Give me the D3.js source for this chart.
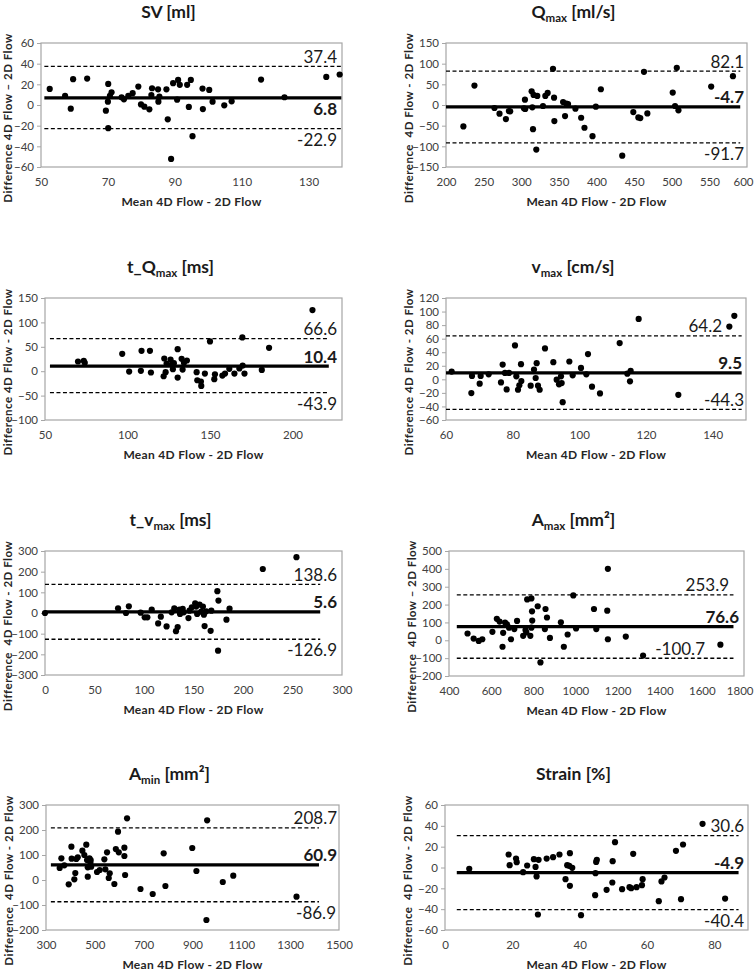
<!DOCTYPE html>
<html><head><meta charset="utf-8">
<script src="https://cdn.jsdelivr.net/npm/d3@7"></script>
<style>
body{margin:0;background:#fff}
svg{display:block}
text{font-family:Lato,"Open Sans",sans-serif}
</style>
</head><body>
<svg id="chart" width="754" height="971"></svg>
<script>
// ---------- DATA ----------
const titleMain = ["SV [ml]", "Q", "t_Q", "v", "t_v", "A", "A", "Strain [%]"];
const titleSub  = ["", "max", "max", "max", "max", "max", "min", ""];
const titleTail = ["", " [ml/s]", " [ms]", " [cm/s]", " [ms]", " [mm²]", " [mm²]", ""];
const yAxisLabels = [
  "Difference 4D Flow \u2013 2D Flow", "Difference  4D Flow - 2D Flow",
  "Difference 4D Flow - 2D Flow", "Difference 4D Flow - 2D Flow",
  "Difference  4D Flow - 2D Flow", "Difference  4D Flow \u2013 2D Flow",
  "Difference  4D Flow - 2D Flow", "Difference  4D Flow - 2D Flow"];
const xAxisLabel = "Mean 4D Flow - 2D Flow";

// limits of agreement: upper, mean (bias), lower
const upperLoA = [37.4, 82.1, 66.6, 64.2, 138.6, 253.9, 208.7, 30.6];
const meanBias = [6.8, -4.7, 10.4, 9.5, 5.6, 76.6, 60.9, -4.9];
const lowerLoA = [-22.9, -91.7, -43.9, -44.3, -126.9, -100.7, -86.9, -40.4];
// x extent of the reference lines (data units)
const lineStart = [51, 200, 53, 60, 0, 437, 320, 3.5];
const lineEnd   = [139.8, 591, 222, 148.7, 278, 1750, 1418, 87.2];

// axis domains and ticks
const xDomains = [[50,140],[200,600],[50,230],[60,150],[0,300],[400,1800],[300,1500],[0,90]];
const xTicks = [[50,70,90,110,130],[200,250,300,350,400,450,500,550,600],[50,100,150,200],
  [60,80,100,120,140],[0,50,100,150,200,250,300],[400,600,800,1000,1200,1400,1600,1800],
  [300,500,700,900,1100,1300,1500],[0,20,40,60,80]];
const yDomains = [[-60,60],[-150,150],[-100,150],[-60,120],[-300,300],[-200,500],[-200,300],[-60,60]];
const yTicks = [[-60,-40,-20,0,20,40,60],[-150,-100,-50,0,50,100,150],[-100,-50,0,50,100,150],
  [-60,-40,-20,0,20,40,60,80,100,120],[-300,-200,-100,0,100,200,300],
  [-200,-100,0,100,200,300,400,500],[-200,-100,0,100,200,300],[-60,-40,-20,0,20,40,60]];

// points: mean (x) and difference (y)
const svMean = [52.6,57.2,58.9,59.6,63.8,69.4,70.1,70.1,70,70.6,71.1,74.1,74.8,76.1,77.4,79.1,79.9,80.9,82.4,83.2,83,85,85.4,85.1,87.5,87.9,88.9,89.5,91,90.7,91.5,93.7,94.2,94.8,95.3,98.3,98.4,100.3,101.3,104.8,107,115.8,122.8,135.3,139.3];
const svDiff = [15.6,8.8,-3.6,25,25.6,-5.5,20.4,-22.4,3.2,8.8,12.3,7.5,5.5,8.8,11.4,17.8,0.6,-1.6,-4.2,16.2,9.7,15.2,8.1,3.2,15.2,-13.9,-52.2,21.1,24.3,5.2,19.5,19.5,-1.9,24.3,-30.2,15.9,-3.9,14.6,3.2,-0.3,3.6,24.6,7.5,27.2,29.5];

const qMean = [223.1,237.8,264.4,271.1,279.6,283.6,285.3,303.6,304.9,305.3,313.8,314.7,315.6,316.4,320,321.3,328.9,332,335.1,342.2,343.6,344,355.6,358.2,360,362.2,372,379.6,384,394.7,399.1,405.8,434.2,448.9,455.6,458.2,463.1,467.6,501.3,504.4,506.7,508.9,552.4,581.3];
const qDiff = [-51.9,47,-7.3,-21,-34,-14.6,-15.4,-8.1,13,-9.7,33.3,-5.7,-58.4,24.3,-107.9,21.9,-2.4,21.9,29.2,87.6,17.8,-38.9,7.3,-26.8,3.2,2.4,-8.9,-30.8,-55.1,-75.4,-4.1,38.1,-122.5,-17,-30,-31.6,80.3,-20.3,30,-2.4,90,-13,44.6,69.7];

const tqMean = [70,73.5,74.1,96.8,101,108.5,108.1,113.6,114.2,121.9,122.3,123.1,123.7,126.1,126.9,127.5,128.1,130.4,130.4,132.8,133.4,134.2,136,141.9,142.3,144.5,144.7,146.9,150,152.6,153,157.5,159.1,161.7,164.8,167.8,169.6,169.8,170.9,181.4,185.8,212.1];
const tqDiff = [19.9,21.2,17.1,35.6,-0.7,41.8,0.7,41.8,-2.7,-10.3,26,-2.1,15.8,24,13.7,4.1,16.4,45.2,-13,25.3,3.4,17.1,21.9,-2.1,-18.5,-21.2,-30.1,-4.8,61,-16.4,-6.2,-8.9,-4.8,4.8,-4.8,5.5,69.2,11.6,-4.8,2.7,47.9,125.3];

const vMean = [61.7,67.6,67.8,70.1,70.4,72.8,76.5,77,77.7,78.2,78.9,80.7,81.1,81.6,82,82.5,82.6,85.4,86.4,86.9,87.2,87.6,88.1,89.7,92.2,93.2,93.9,94.5,94.7,95,97,98,100.5,102.1,102.6,103.8,106.2,112.1,114.4,115.4,115.2,117.8,129.7,145,146.5];
const vDiff = [11.4,-20.3,5,-6.4,5,7.4,-4.5,21.8,9.4,-14.9,9.4,50.1,4.5,-15.4,-8.9,22.3,-2.5,-9.4,14.4,2,23.8,-9.4,-15.4,45.6,25.3,-0.5,-7.4,4.5,-5.5,-33.7,26.3,5.9,16.9,7.4,37.2,-10.9,-20.8,53.5,8.4,12.4,-3,89.2,-22.8,77.8,93.7];

const tvMean = [0,73.8,81.8,84.7,96.6,100.7,103.4,107.8,114.3,117,122.8,127.9,130.6,132.3,134,135.7,136.4,139.1,140.1,144.9,145.9,148.3,151.7,152.7,153.7,156.1,157.8,159.5,160.5,161.2,162.9,167.3,168,174.1,175.2,174.8,183.3,186.4,220,254];
const tvDiff = [0,22.8,0,32.5,1.6,-21,-21,16.3,-50.4,-17.9,-65,3.3,22.8,-87.8,-68.3,16.3,-4.9,19.5,3.3,-24.4,11.4,27.6,47.2,30.9,-4.9,40.7,6.5,30.9,-8.1,-63.4,8.1,-86.2,11.4,105.7,60.2,-182.1,-32.5,21.1,213,270];

const amaxMean = [488,517,541,558,606,627,640,654,657,666,675,685,694,710,723,752,763,767,771,786,791,794,795,791,821,834,855,858,865,879,931,945,963,990,1003,1088,1099,1151,1154,1154,1239,1321,1688];
const amaxDiff = [38,9.5,-3.8,5.7,47.6,120,104.8,-36.2,41.9,99,89.5,70.5,5.7,62.9,108.6,24.8,57.1,43.8,228.6,24.8,234.3,162,110.5,70.5,190.5,-123.8,62.9,175.2,127.6,13.3,101,-36.2,32.4,251.4,66.7,175.2,62.9,165.7,5.7,400,21,-85.7,-24.8];

const aminMean = [356,363,375,393,404,405,416,420,424,430,449,457,465,468,471,471,478,482,483,485,509,520,539,543,550,557,561,580,586,595,598,621,621,624,632,687,737,782,789,899,916,957,960,1024,1067,1326];
const aminDiff = [48,86.7,58.7,-17.3,133.3,85.3,2.7,28,84,90.7,117.3,100,141.3,80,13.3,50.7,86.7,69.3,80,53.3,32,40,82.7,42.7,110.7,8,26.7,-16,124,193.3,110.7,129.3,96,20,246.7,-36,-56,106.7,-24,128,36,-160,238.7,-8,17.3,-66.7];

const strainMean = [7.2,18.9,19.2,21.1,21.3,23.2,24.4,26.4,26.9,27.2,27.8,27.6,30.2,32.1,34,35.8,36.3,36.9,37.1,37.1,37.8,40.4,44.7,44.6,44.9,45.1,48,49.7,49.8,50.5,52.6,54.8,55.3,55.9,56.9,58.7,58.5,63.5,64.3,65.2,68.6,70.1,70.7,76.5,83.2];
const strainDiff = [-1.3,12.5,2.2,8.6,5.1,-4.5,1.9,8,0.6,-8.6,7.4,-45.1,8.6,9.9,12.5,-11.2,2.2,1.6,13.8,-17.6,-0.3,-45.8,-5.4,-26.6,5.4,7.4,-21.4,-14.4,6.1,24.3,-20.8,-18.9,-19.8,13.1,-18.9,-11.2,-17,-32.3,-13.4,-9.6,16,-30.4,22.1,41.9,-29.8];

const meanSeries = [svMean, qMean, tqMean, vMean, tvMean, amaxMean, aminMean, strainMean];
const diffSeries = [svDiff, qDiff, tqDiff, vDiff, tvDiff, amaxDiff, aminDiff, strainDiff];

// ---------- LAYOUT (pixels) ----------
const W = 754;
// plot box: left, top, right, bottom
const boxes = [
  [41,43,342,167],[446,43,747,167],
  [45,298,342,420],[446,298,746,420],
  [45,551,342,675],[449,551,744,676],
  [46,805,339,930],[445,805,748,930]];
// label placement: [offset from box right, side] for upper, mean, lower
const labelPos = [
  [[5,"a"],[5,"b"],[5,"b"]],
  [[3,"a"],[3,"a"],[3,"b"]],
  [[5,"a"],[5,"a"],[5,"b"]],
  [[24,"a"],[4,"a"],[2,"a"]],
  [[5,"a"],[5,"a"],[5,"b"]],
  [[15,"a"],[5,"a"],[39,"a"]],
  [[2,"a"],[2,"a"],[3,"b"]],
  [[4,"a"],[4,"a"],[4,"b"]]];

const svg = d3.select("#chart");

boxes.forEach((b, i) => {
  const [L, T, R, B] = b;
  const x = d3.scaleLinear().domain(xDomains[i]).range([L, R]);
  const y = d3.scaleLinear().domain(yDomains[i]).range([B, T]);
  const g = svg.append("g");

  // box
  g.append("rect").attr("x", L).attr("y", T).attr("width", R - L).attr("height", B - T)
    .attr("fill", "none").attr("stroke", "#a6a6a6").attr("stroke-width", 1.2);

  // y axis
  const ya = d3.axisLeft(y).tickValues(yTicks[i]).tickSize(4).tickPadding(3).tickFormat(d3.format("d"));
  const yg = g.append("g").attr("transform", `translate(${L},0)`).call(ya);
  yg.select(".domain").remove();
  yg.selectAll("line").attr("stroke", "#a6a6a6");
  yg.selectAll("text").attr("font-size", 11.5).attr("fill", "#404040").attr("font-family", "Lato");

  // x axis
  const xa = d3.axisBottom(x).tickValues(xTicks[i]).tickSize(0).tickPadding(11).tickFormat(d3.format("d"));
  const xg = g.append("g").attr("transform", `translate(0,${B})`).call(xa);
  xg.select(".domain").remove();
  xg.selectAll("text").attr("font-size", 11.5).attr("fill", "#404040").attr("font-family", "Lato");
  // keep tick labels inside the page
  xg.selectAll(".tick").each(function(d) {
    const txt = d3.select(this).select("text");
    const w = txt.node().getComputedTextLength();
    const over = x(d) + w / 2 - (W - 1);
    if (over > 0) txt.attr("x", -over);
  });

  // reference lines
  const x0 = x(lineStart[i]), x1 = x(lineEnd[i]);
  [upperLoA[i], lowerLoA[i]].forEach(v => {
    g.append("line").attr("x1", x0).attr("x2", x1).attr("y1", y(v)).attr("y2", y(v))
      .attr("stroke", "#000").attr("stroke-width", 1.3).attr("stroke-dasharray", "4,2.5");
  });
  g.append("line").attr("x1", x0).attr("x2", x1).attr("y1", y(meanBias[i])).attr("y2", y(meanBias[i]))
    .attr("stroke", "#000").attr("stroke-width", 3.2);

  // points
  g.selectAll("circle.pt").data(meanSeries[i].map((m, k) => [m, diffSeries[i][k]]))
    .join("circle").attr("class", "pt")
    .attr("cx", d => x(d[0])).attr("cy", d => y(d[1])).attr("r", 3.1).attr("fill", "#000");

  // value labels
  const vals = [upperLoA[i], meanBias[i], lowerLoA[i]];
  vals.forEach((v, k) => {
    const [off, side] = labelPos[i][k];
    const yy = side === "a" ? y(v) - 3.5 : y(v) + 17;
    g.append("text").attr("x", R - off).attr("y", yy).attr("text-anchor", "end")
      .attr("font-size", 17).attr("font-weight", k === 1 ? "bold" : "normal").attr("fill", "#1a1a1a")
      .text(v.toFixed(1));
  });

  // title
  const t = g.append("text").attr("x", (L + R) / 2 - 23).attr("y", T - 25).attr("text-anchor", "middle")
    .attr("font-size", 17.5).attr("font-weight", "bold").attr("fill", "#1a1a1a");
  t.append("tspan").text(titleMain[i]);
  if (titleSub[i]) {
    t.append("tspan").attr("font-size", 11.5).attr("dy", 4).text(titleSub[i]);
    t.append("tspan").attr("dy", -4).text(titleTail[i]);
  }

  // x axis title
  g.append("text").attr("x", (L + R) / 2).attr("y", B + 39).attr("text-anchor", "middle")
    .attr("font-size", 12).attr("letter-spacing", 0.3).attr("font-weight", "bold").attr("fill", "#262626")
    .text(xAxisLabel);

  // y axis title (baseline position)
  const cy = (T + B) / 2 + 13, cx = Math.max(L - 33, 12);
  g.append("text").attr("transform", `translate(${cx},${cy}) rotate(-90)`).attr("text-anchor", "middle")
    .attr("font-size", 11.5).attr("letter-spacing", 0.5).attr("font-weight", "bold").attr("fill", "#262626")
    .attr("xml:space", "preserve").style("white-space", "pre").text(yAxisLabels[i]);
});
</script>
</body></html>
